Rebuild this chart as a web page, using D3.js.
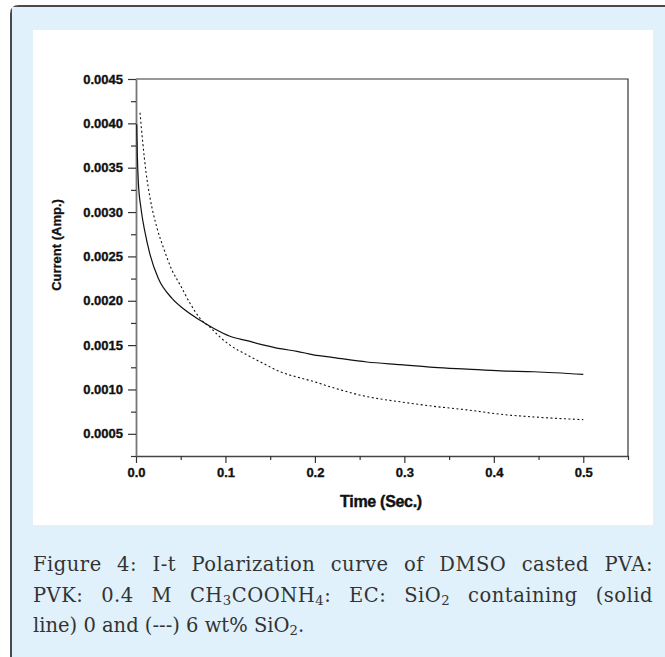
<!DOCTYPE html>
<html>
<head>
<meta charset="utf-8">
<script src="https://cdn.jsdelivr.net/npm/d3@7.9.0/dist/d3.min.js"></script>
<style>
  html, body { margin: 0; padding: 0; background: #fff; }
  body { width: 665px; height: 657px; position: relative; overflow: hidden; }
  svg { position: absolute; left: 0; top: 0; }
  .caption {
    position: absolute; left: 33px; top: 550px; width: 620px;
    font-family: "DejaVu Serif", "Liberation Serif", serif;
    font-size: 19.5px; line-height: 30.5px; color: #333;
  }
  .caption div { white-space: nowrap; }
  .caption .just { text-align: justify; text-align-last: justify; letter-spacing: 0.5px; }
  .caption sub { font-size: 0.68em; vertical-align: -0.2em; line-height: 0; }
  .tick text { font-family: "Liberation Sans", Arial, sans-serif; font-weight: bold; font-size: 13px;
    fill: #111; stroke: #111; stroke-width: 0.35px; }
</style>
</head>
<body>
<script>
// time (s) / current (A)
const solidTime = [0.0008, 0.0015, 0.0026, 0.0056, 0.0101, 0.0157, 0.025, 0.040, 0.053, 0.0717, 0.0866,
  0.105, 0.124, 0.143, 0.161, 0.18, 0.1985, 0.221, 0.258, 0.296, 0.333, 0.370, 0.408, 0.445, 0.50];
const solidCurrent = [0.00399, 0.00364, 0.00334, 0.00304, 0.00277, 0.00252, 0.00225, 0.00203, 0.00191, 0.00178, 0.00169,
  0.00160, 0.00155, 0.00150, 0.00146, 0.00143, 0.00139, 0.00136, 0.00131, 0.00128, 0.00125, 0.00123, 0.00121, 0.00120, 0.00117];

const dashTime = [0.0045, 0.0075, 0.0112, 0.0157, 0.0232, 0.0306, 0.040, 0.0493, 0.0605, 0.0717, 0.0829, 0.094,
  0.105, 0.124, 0.143, 0.161, 0.18, 0.1985, 0.217, 0.258, 0.296, 0.333, 0.370, 0.408, 0.445, 0.50];
const dashCurrent = [0.00412, 0.00379, 0.00345, 0.00316, 0.00283, 0.00260, 0.00235, 0.00218, 0.00197, 0.00180, 0.00170, 0.00159,
  0.00150, 0.00139, 0.00129, 0.00120, 0.00114, 0.00109, 0.00103, 0.00092, 0.00086, 0.00081, 0.00077, 0.00072, 0.00069, 0.00066];

const xMajor = [0, 0.1, 0.2, 0.3, 0.4, 0.5];
const xMinor = [0.05, 0.15, 0.25, 0.35, 0.45, 0.55];
const yMajor = [0.0005, 0.0010, 0.0015, 0.0020, 0.0025, 0.0030, 0.0035, 0.0040, 0.0045];
const yMinor = [0.00025, 0.00075, 0.00125, 0.00175, 0.00225, 0.00275, 0.00325, 0.00375, 0.00425];

const W = 665, H = 657;
const plot = { left: 136, right: 628, top: 79, bottom: 456 };

const svg = d3.select('body').append('svg').attr('width', W).attr('height', H);

// outer light-blue box with border
svg.append('path')
  .attr('d', `M11,${H + 5} L11,14 Q11,6 19,6 L${W + 5},6`)
  .attr('fill', '#e0f1fb')
  .attr('stroke', '#4a4a4a')
  .attr('stroke-width', 2);
svg.append('rect').attr('x', 12).attr('y', 7).attr('width', W).attr('height', H).attr('fill', '#e0f1fb');
svg.append('rect').attr('x', 33).attr('y', 30).attr('width', 620).attr('height', 495).attr('fill', '#fff');

const x = d3.scaleLinear().domain([0, 0.55]).range([plot.left, plot.right]);
const y = d3.scaleLinear().domain([0.00025, 0.0045]).range([plot.bottom, plot.top]);

// frame top/right
svg.append('path')
  .attr('d', `M${plot.left},${plot.top} H${plot.right} V${plot.bottom}`)
  .attr('fill', 'none').attr('stroke', '#333').attr('stroke-width', 1.2);

// axes
const gx = svg.append('g').attr('transform', `translate(0,${plot.bottom})`)
  .call(d3.axisBottom(x).tickValues(xMajor).tickFormat(d3.format('.1f')).tickSizeInner(7).tickSizeOuter(0).tickPadding(5));
svg.append('g').attr('transform', `translate(0,${plot.bottom})`)
  .call(d3.axisBottom(x).tickValues(xMinor).tickFormat('').tickSizeInner(4).tickSizeOuter(0))
  .select('.domain').remove();
gx.select('.domain').attr('stroke', '#444').attr('stroke-width', 1.3);

const gy = svg.append('g').attr('transform', `translate(${plot.left},0)`)
  .call(d3.axisLeft(y).tickValues(yMajor).tickFormat(d3.format('.4f')).tickSizeInner(8).tickSizeOuter(0).tickPadding(5));
svg.append('g').attr('transform', `translate(${plot.left},0)`)
  .call(d3.axisLeft(y).tickValues(yMinor).tickFormat('').tickSizeInner(5).tickSizeOuter(0))
  .select('.domain').remove();
gy.select('.domain').attr('stroke', '#777').attr('stroke-width', 1.8);
svg.selectAll('.tick line').attr('stroke', '#333').attr('stroke-width', 1.2);

// axis titles
svg.append('text')
  .attr('x', 381).attr('y', 507)
  .attr('text-anchor', 'middle')
  .attr('font-family', '"Liberation Sans", Arial, sans-serif')
  .attr('font-weight', 'bold').attr('font-size', 16).attr('fill', '#111')
  .attr('stroke', '#111').attr('stroke-width', 0.4)
  .attr('letter-spacing', -0.3)
  .text('Time (Sec.)');
svg.append('text')
  .attr('transform', 'translate(61,245) rotate(-90)')
  .attr('text-anchor', 'middle')
  .attr('font-family', '"Liberation Sans", Arial, sans-serif')
  .attr('font-weight', 'bold').attr('font-size', 13).attr('fill', '#111')
  .attr('stroke', '#111').attr('stroke-width', 0.3)
  .text('Current (Amp.)');

// curves
const line = d3.line().x(d => x(d[0])).y(d => y(d[1])).curve(d3.curveMonotoneX);
svg.append('path')
  .datum(d3.zip(solidTime, solidCurrent))
  .attr('d', line)
  .attr('fill', 'none').attr('stroke', '#111').attr('stroke-width', 1.2);
svg.append('path')
  .datum(d3.zip(dashTime, dashCurrent))
  .attr('d', line)
  .attr('fill', 'none').attr('stroke', '#111').attr('stroke-width', 1.1)
  .attr('stroke-dasharray', '2,2.5');

// caption
const cap = d3.select('body').append('div').attr('class', 'caption');
cap.append('div').attr('class', 'just').text('Figure 4: I-t Polarization curve of DMSO casted PVA:');
cap.append('div').attr('class', 'just')
  .html('PVK: 0.4 M CH<sub>3</sub>COONH<sub>4</sub>: EC: SiO<sub>2</sub> containing (solid');
cap.append('div').html('line) 0 and (---) 6 wt% SiO<sub>2</sub>.');
</script>
</body>
</html>
